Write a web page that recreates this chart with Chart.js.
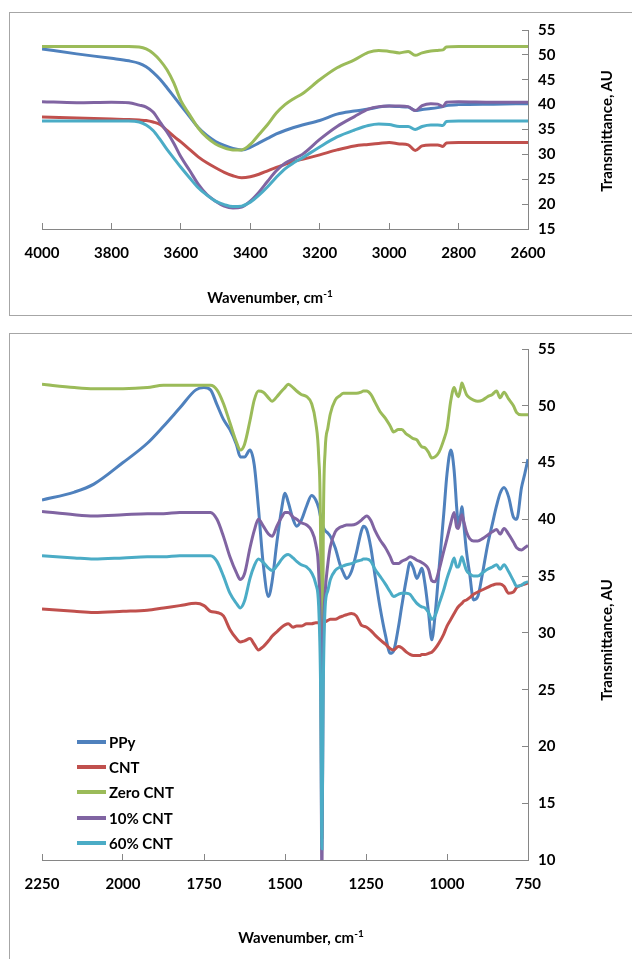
<!DOCTYPE html>
<html>
<head>
<meta charset="utf-8">
<script src="https://cdn.jsdelivr.net/npm/chart.js@4.4.1/dist/chart.umd.min.js"></script>
<style>
  body { margin: 0; background: #fff; width: 632px; height: 959px; overflow: hidden; position: relative; font-family: Lato, sans-serif; }
  .frame { position: absolute; border: 1px solid #a6a6a6; }
  .box { position: absolute; }
  .xtitle, .ytitle { position: absolute; font: bold 15px Lato, sans-serif; color: #000; white-space: nowrap; }
  .xtitle { transform: translate(-50%, -50%); }
  .ytitle { transform: translate(-50%, -50%) rotate(-90deg); }
  .xtitle sup { font-size: 10px; vertical-align: 6px; line-height: 0; }
  #legend { position: absolute; left: 77px; top: 729px; font: bold 15px Lato, sans-serif; }
  #legend div { height: 25.3px; display: flex; align-items: center; }
  #legend span.sw { display: inline-block; width: 29px; height: 4px; margin-right: 3px; }
</style>
</head>
<body>
<div class="frame" style="left:9px; top:12px; width:700px; height:302px;"></div>
<div class="frame" style="left:9px; top:333px; width:700px; height:700px;"></div>

<div class="box" style="left:0; top:0; width:632px; height:320px;"><canvas id="topChart"></canvas></div>
<div class="box" style="left:0; top:320px; width:632px; height:639px;"><canvas id="bottomChart"></canvas></div>

<div class="xtitle" style="left:270px; top:297px;">Wavenumber, cm<sup>-1</sup></div>
<div class="ytitle" style="left:606px; top:131px;">Transmittance, AU</div>
<div class="xtitle" style="left:301px; top:937px;">Wavenumber, cm<sup>-1</sup></div>
<div class="ytitle" style="left:606px; top:640px;">Transmittance, AU</div>
<div id="legend"></div>

<script>
const seriesNames = ['PPy', 'CNT', 'Zero CNT', '10% CNT', '60% CNT'];
const seriesColors = ['#4F81BD', '#C0504D', '#9BBB59', '#8064A2', '#4BACC6'];

// upper panel, 4000-2600 cm-1
const topWavenumber = [
  4000, 3900, 3800, 3750, 3720, 3700, 3680, 3660, 3640, 3620,
  3600, 3575, 3550, 3525, 3500, 3475, 3450, 3425, 3400, 3375,
  3350, 3325, 3300, 3275, 3250, 3200, 3150, 3100, 3060, 3030,
  3000, 2970, 2945, 2925, 2905, 2880, 2860, 2845, 2835, 2800,
  2700, 2600];
const topPPy = [
  51.2, 50.2, 49.3, 48.8, 48.3, 47.6, 46.5, 45.1, 43.4, 41.6,
  39.8, 37.6, 35.4, 33.8, 32.6, 31.8, 31.2, 30.9, 31.4, 32.3,
  33.2, 34.1, 34.8, 35.4, 35.9, 36.8, 38.1, 38.7, 39.1, 39.5,
  39.7, 39.6, 39.5, 38.8, 39.0, 39.2, 39.4, 39.6, 39.8, 40.0,
  40.1, 40.2];
const topCNT = [
  37.5, 37.3, 37.1, 37.0, 36.9, 36.8, 36.5, 36.0, 34.8, 33.6,
  32.5, 31.0, 29.5, 28.3, 27.3, 26.4, 25.7, 25.3, 25.5, 26.0,
  26.7, 27.4, 28.0, 28.6, 29.0, 29.9, 30.9, 31.7, 32.0, 32.2,
  32.4, 32.1, 31.9, 30.8, 31.7, 31.9, 31.9, 31.6, 32.3, 32.4,
  32.4, 32.4];
const topZero = [
  51.7, 51.7, 51.7, 51.7, 51.6, 51.2, 50.3, 48.9, 47.0, 44.3,
  40.8, 38.0, 35.3, 33.4, 32.1, 31.3, 30.9, 30.9, 32.0, 34.0,
  36.0, 38.3, 40.0, 41.2, 42.2, 45.0, 47.4, 49.0, 50.5, 50.9,
  50.7, 50.4, 50.7, 49.9, 50.4, 50.8, 50.9, 51.0, 51.6, 51.7,
  51.7, 51.7];
const top10 = [
  40.6, 40.4, 40.5, 40.4, 39.9, 39.5, 38.5, 36.5, 34.5, 32.2,
  29.5, 26.8, 24.0, 21.9, 20.6, 19.6, 19.2, 19.4, 20.6, 22.4,
  24.6, 26.7, 28.2, 29.1, 30.0, 33.0, 35.6, 37.6, 39.1, 39.6,
  39.7, 39.7, 39.6, 38.8, 39.8, 40.2, 40.1, 39.6, 40.5, 40.6,
  40.5, 40.5];
const top60 = [
  36.7, 36.7, 36.7, 36.7, 36.5, 35.9, 34.8, 33.0, 31.0, 29.2,
  27.4, 25.3, 23.3, 21.8, 20.6, 19.9, 19.5, 19.6, 20.4, 21.8,
  23.5, 25.4, 27.1, 28.3, 29.3, 31.5, 33.5, 34.9, 35.8, 36.1,
  36.0, 35.6, 35.6, 35.0, 35.6, 35.9, 35.9, 35.8, 36.6, 36.7,
  36.7, 36.7];
const topXTicks = [4000, 3800, 3600, 3400, 3200, 3000, 2800, 2600];
const topYTicks = [15, 20, 25, 30, 35, 40, 45, 50, 55];

// lower panel, 2250-750 cm-1
const bottomWavenumber = [
  2250, 2150, 2090, 2000, 1925, 1875, 1825, 1775, 1750, 1730,
  1710, 1690, 1670, 1650, 1638, 1625, 1608, 1595, 1582, 1567,
  1551, 1540, 1525, 1510, 1500, 1490, 1475, 1464, 1450, 1433,
  1418, 1405, 1396, 1390, 1386, 1382, 1376, 1368, 1360, 1345,
  1330, 1320, 1310, 1295, 1280, 1265, 1258, 1248, 1235, 1222,
  1207, 1190, 1175, 1165, 1150, 1140, 1125, 1114, 1104, 1093,
  1084, 1078, 1068, 1057, 1047, 1037, 1025, 1010, 1000, 988,
  978, 970, 965, 958, 954, 948, 940, 930, 918, 905,
  890, 875, 860, 847, 836, 824, 810, 795, 785, 770,
  760, 750];
const bottomPPy = [
  41.7, 42.4, 43.1, 45.0, 46.7, 48.2, 49.8, 51.4, 51.6, 51.4,
  50.1, 48.8, 47.9, 46.6, 45.5, 45.5, 46.1, 44.8, 41.0, 36.0,
  33.2, 34.5, 38.0, 41.0, 42.3, 41.5, 40.0, 39.4, 39.9, 41.2,
  42.1, 41.7, 41.0, 40.2, 39.8, 39.3, 39.0, 38.8, 38.5, 37.5,
  36.0, 35.3, 34.8, 35.4, 37.0, 38.9, 39.4, 39.1, 37.5, 35.0,
  32.3, 29.8, 28.2, 28.4, 30.5, 32.3, 34.8, 36.2, 35.7, 34.8,
  35.3, 35.7, 34.3, 31.8, 29.4, 31.5, 35.5, 40.5, 44.0, 46.1,
  44.3, 41.0, 39.4, 40.4, 41.1, 39.5, 37.2, 35.2, 32.9, 33.2,
  35.3, 37.7, 39.6, 41.2, 42.3, 42.8, 42.0, 40.2, 40.0, 42.8,
  44.0, 45.3];
const bottomCNT = [
  32.1, 31.9, 31.8, 31.9, 32.0, 32.2, 32.4, 32.6, 32.4, 31.9,
  31.8, 31.5, 30.3, 29.5, 29.2, 29.3, 29.5, 29.0, 28.5, 28.8,
  29.3, 29.7, 30.1, 30.5, 30.7, 30.8, 30.5, 30.6, 30.6, 30.8,
  30.8, 30.9, 30.9, 30.9, 30.9, 31.0, 31.0, 31.1, 31.2, 31.2,
  31.4, 31.5, 31.6, 31.7, 31.5, 30.7, 30.6, 30.5, 30.2, 29.8,
  29.4, 29.0, 28.6, 28.5, 28.8, 28.7, 28.3, 28.1, 28.0, 28.0,
  28.0, 28.1, 28.1, 28.2, 28.3, 28.6, 29.1, 29.9, 30.6, 31.2,
  31.7, 32.1, 32.3, 32.5, 32.6, 32.8, 32.9, 33.1, 33.4, 33.6,
  33.8, 34.0, 34.2, 34.3, 34.3, 34.1, 33.5, 33.6, 34.0, 34.2,
  34.3, 34.4];
const bottomZero = [
  51.9, 51.6, 51.5, 51.5, 51.6, 51.8, 51.8, 51.8, 51.8, 51.8,
  51.4, 50.2, 48.5, 46.8, 46.1, 46.6, 48.7, 50.5, 51.3, 51.2,
  50.7, 50.4, 50.8, 51.3, 51.6, 51.9, 51.6, 51.3, 51.0, 50.8,
  50.2, 48.5, 45.5, 38.0, 12.0, 38.0, 46.1, 48.0, 49.3, 50.5,
  50.9, 51.1, 51.1, 51.1, 51.1, 51.2, 51.3, 51.3, 51.0, 50.3,
  49.5, 48.9, 48.2, 47.7, 47.9, 47.9, 47.5, 47.3, 47.1, 47.0,
  46.6, 46.4, 46.3, 45.9, 45.4, 45.5, 45.9, 47.0, 48.0, 50.5,
  51.6, 51.0, 50.8, 51.5, 52.0, 51.6, 51.0, 50.7, 50.5, 50.4,
  50.5, 50.8, 51.0, 51.3, 50.7, 51.2, 50.6, 50.0, 49.4, 49.2,
  49.2, 49.2];
const bottom10 = [
  40.7, 40.4, 40.3, 40.4, 40.5, 40.5, 40.6, 40.6, 40.6, 40.6,
  40.0, 38.5, 36.7, 35.3, 34.7, 35.2, 37.5, 39.0, 40.0, 39.4,
  38.7, 38.5, 39.4, 40.2, 40.6, 40.6, 40.2, 40.0, 39.7, 39.5,
  39.0, 37.8, 35.3, 28.0, 8.0, 28.0, 33.5, 36.0, 37.6, 38.9,
  39.3, 39.4, 39.5, 39.5, 39.6, 39.9, 40.1, 40.3, 39.9, 39.0,
  38.2, 37.5, 36.7, 36.1, 36.1, 36.3, 36.5, 36.7, 36.6, 36.4,
  36.3, 36.2, 36.0, 35.6, 34.6, 34.5, 35.5, 37.2, 38.3, 39.7,
  40.6, 39.3, 39.2, 40.0, 40.4, 39.8, 38.9, 38.3, 38.1, 38.1,
  38.3, 38.6, 38.9, 39.1, 38.7, 39.2, 38.7, 38.0, 37.5, 37.3,
  37.5, 37.7];
const bottom60 = [
  36.8, 36.6, 36.5, 36.6, 36.7, 36.7, 36.8, 36.8, 36.8, 36.8,
  36.3, 35.0, 33.5, 32.6, 32.2, 32.8, 34.8, 35.9, 36.5, 36.2,
  35.7, 35.5, 35.9, 36.5, 36.8, 36.9, 36.6, 36.3, 36.0, 35.8,
  35.3, 34.3, 32.3, 25.0, 11.0, 25.0, 32.3, 33.7, 34.7, 35.5,
  35.8, 35.9, 36.0, 36.1, 36.3, 36.4, 36.5, 36.5, 36.3, 35.6,
  35.0, 34.3, 33.6, 33.2, 33.4, 33.5, 33.5, 33.4, 33.0, 32.6,
  32.4, 32.3, 32.2, 31.8, 31.2, 31.5, 32.5, 33.8, 34.8, 35.8,
  36.6, 35.8, 35.8, 36.4, 36.7, 36.2, 35.5, 35.2, 35.0, 35.0,
  35.3, 35.6, 35.8, 36.0, 35.6, 36.0, 35.4, 34.6, 34.1, 34.2,
  34.4, 34.5];
const bottomXTicks = [2250, 2000, 1750, 1500, 1250, 1000, 750];
const bottomYTicks = [10, 15, 20, 25, 30, 35, 40, 45, 50, 55];

Chart.defaults.font.family = 'Lato, sans-serif';
Chart.defaults.font.size = 15;
Chart.defaults.font.weight = 'bold';
Chart.defaults.color = '#000';

function makeDatasets(wn, seriesList) {
  return seriesList.map((values, i) => ({
    label: seriesNames[i],
    data: wn.map((x, j) => ({ x: x, y: values[j] })),
    borderColor: seriesColors[i],
    backgroundColor: seriesColors[i],
    borderWidth: 3,
    pointRadius: 0,
    cubicInterpolationMode: 'monotone',
    order: seriesList.length - i   // last series drawn on top, like the original
  }));
}

function makeChart(id, wn, seriesList, xTicks, yTicks, axisHeight, topPad) {
  const ctx = document.getElementById(id).getContext('2d');
  return new Chart(ctx, {
    type: 'line',
    data: { datasets: makeDatasets(wn, seriesList) },
    options: {
      responsive: true,
      maintainAspectRatio: false,
      animation: false,
      layout: { padding: { left: 42, top: topPad, right: 0, bottom: 0 } },
      plugins: { legend: { display: false }, tooltip: { enabled: false } },
      scales: {
        x: {
          type: 'linear',
          reverse: true,
          min: xTicks[xTicks.length - 1],
          max: xTicks[0],
          afterBuildTicks: s => { s.ticks = xTicks.map(v => ({ value: v })); },
          afterFit: s => { s.height = axisHeight; },
          grid: { drawOnChartArea: false, color: '#868686', tickLength: -6 },
          border: { color: '#868686', width: 1 },
          ticks: { autoSkip: false, maxRotation: 0, padding: 21, callback: v => String(v) }
        },
        y: {
          position: 'right',
          min: yTicks[0],
          max: yTicks[yTicks.length - 1],
          afterBuildTicks: s => { s.ticks = yTicks.map(v => ({ value: v })); },
          afterFit: s => { s.width = 104; },
          grid: { drawOnChartArea: false, color: '#868686', tickLength: -6 },
          border: { color: '#868686', width: 1 },
          ticks: { autoSkip: false, padding: 16, callback: v => String(v) }
        }
      }
    }
  });
}

makeChart('topChart', topWavenumber, [topPPy, topCNT, topZero, top10, top60],
  topXTicks, topYTicks, 91, 30);
makeChart('bottomChart', bottomWavenumber, [bottomPPy, bottomCNT, bottomZero, bottom10, bottom60],
  bottomXTicks, bottomYTicks, 99, 29);

// legend of the lower panel
const legend = document.getElementById('legend');
seriesNames.forEach((name, i) => {
  const row = document.createElement('div');
  row.innerHTML = '<span class="sw" style="background:' + seriesColors[i] + '"></span>' + name;
  legend.appendChild(row);
});
</script>
</body>
</html>
